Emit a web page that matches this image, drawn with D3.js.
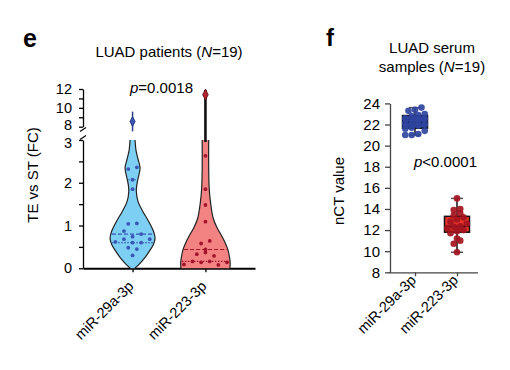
<!DOCTYPE html>
<html>
<head>
<meta charset="utf-8">
<script src="https://cdn.jsdelivr.net/npm/d3@7"></script>
<style>
  body { margin: 0; background: #fff; }
  svg { font-family: "Liberation Sans", Arial, Helvetica, sans-serif; }
</style>
</head>
<body>
<svg id="chart" width="510" height="370"></svg>
<script>
var cats = ['miR-29a-3p', 'miR-223-3p'];

// panel e: TE vs ST fold change (lower axis part), order = placement order in each row
var feBlue = [2.32, 2.36, 2.07, 1.85, 1.04, 1.05, 0.87, 0.74, 0.80, 0.62, 0.68, 0.60, 0.60, 0.68, 0.48, 0.45, 0.30];
var feRed = [2.63, 1.85, 1.48, 1.09, 0.58, 0.64, 0.44, 0.33, 0.37, 0.29, 0.09, 0.16, 0.14, 0.16, 0.08, 0.14];
var feBlueHigh = 8.55;
var feRedHigh = 11.4;
var feBlueTail = [7.5, 9.6];
var feRedTail = [3, 11.9];

// violin outlines (value, relative density)
var blueViolinAt = [0, 0.08, 0.23, 0.39, 0.55, 0.70, 0.86, 1.09, 1.33, 1.56, 1.80, 1.95, 2.10, 2.35, 2.55, 2.75, 3.0];
var blueViolinDen = [0.09, 0.24, 0.47, 0.66, 0.83, 0.90, 0.84, 0.65, 0.41, 0.22, 0.15, 0.17, 0.22, 0.30, 0.22, 0.14, 0.10];
var redViolinAt = [0, 0.12, 0.23, 0.43, 0.62, 0.78, 0.94, 1.17, 1.56, 1.87, 2.35, 3.0];
var redViolinDen = [0.98, 0.99, 0.97, 0.90, 0.77, 0.63, 0.47, 0.31, 0.20, 0.15, 0.13, 0.13];

var blueMedian = 0.80, blueQuart = [0.60, 2.07];
var redMedian = 0.44, redQuart = [0.16];

var feLowTicks = [0, 0.5, 1, 1.5, 2, 2.5, 3];
var feHighTicks = [8, 9, 10, 11, 12];

// panel f: nCT values
var nctBlue = [21.0, 21.0, 21.1, 21.4, 21.6, 21.7, 21.9, 22.0, 22.1, 22.2, 22.3, 22.5, 22.6, 22.8, 22.9, 23.0, 23.3, 23.4, 23.6];
var nctRed = [9.9, 10.7, 11.0, 11.2, 11.7, 11.9, 12.0, 12.2, 12.3, 12.35, 12.6, 12.8, 13.0, 13.2, 13.4, 13.6, 13.9, 14.0, 15.0];
var nctTicks = [8, 10, 12, 14, 16, 18, 20, 22, 24];

var svg = d3.select('#chart');

// rows of points, spread sideways around the centre
function swarm(values, gap) {
  var order = d3.range(values.length).sort(function(a, b) { return values[a] - values[b]; });
  var off = [], group = [], start;
  function flush() {
    group.sort(d3.ascending);
    group.forEach(function(idx, k) { off[idx] = k - (group.length - 1) / 2; });
    group = [];
  }
  order.forEach(function(i) {
    if (group.length && values[i] - start > gap) flush();
    if (!group.length) start = values[i];
    group.push(i);
  });
  flush();
  return off;
}

function styleAxis(g, size) {
  g.attr('font-size', size).attr('font-family', null);
  g.selectAll('path, line').attr('stroke', '#000').attr('stroke-width', 1.3);
  g.selectAll('text').attr('fill', '#000');
}

// ================= panel e
var xE = d3.scalePoint().domain(cats).range([83, 255]).padding(0.68);
var yLow = d3.scaleLinear().domain([0, 3]).range([268.3, 140]);
var yHigh = d3.scaleLinear().domain([8, 12]).range([126.7, 89]);
var wScale = d3.scaleLinear().domain([0, 1]).range([0, 25]);

var ge = svg.append('g');

ge.append('text').attr('x', 23).attr('y', 47).attr('font-size', 25).attr('font-weight', 'bold').text('e');
var te = ge.append('text').attr('x', 169).attr('y', 57).attr('text-anchor', 'middle').attr('font-size', 15);
te.append('tspan').text('LUAD patients (');
te.append('tspan').attr('font-style', 'italic').text('N');
te.append('tspan').text('=19)');

var pe = ge.append('text').attr('x', 130).attr('y', 93).attr('font-size', 15);
pe.append('tspan').attr('font-style', 'italic').text('p');
pe.append('tspan').text('=0.0018');

ge.append('text')
  .attr('transform', 'translate(38,175) rotate(-90)')
  .attr('text-anchor', 'middle').attr('font-size', 15)
  .text('TE vs ST (FC)');

var axLow = ge.append('g').attr('transform', 'translate(83,0)')
  .call(d3.axisLeft(yLow).tickValues(feLowTicks).tickSize(4).tickSizeOuter(0).tickPadding(7)
    .tickFormat(function(d) { return d % 1 === 0 ? d : ''; }))
  .call(styleAxis, 14.5);
axLow.selectAll('.tick text').filter(function(d) { return d === 3; }).attr('y', 2.5);

var axHigh = ge.append('g').attr('transform', 'translate(83,0)')
  .call(d3.axisLeft(yHigh).tickValues(feHighTicks).tickSize(4).tickSizeOuter(0).tickPadding(7)
    .tickFormat(function(d) { return d % 2 === 0 ? d : ''; }))
  .call(styleAxis, 14.5);
axHigh.selectAll('.tick text').filter(function(d) { return d === 8; }).attr('y', -1.5);

// axis break marks
ge.append('path').attr('d', 'M80,131.5L86,127.5M80,139.5L86,135.5')
  .attr('stroke', '#000').attr('stroke-width', 1.2).attr('fill', 'none');

var xAxE = ge.append('g').attr('transform', 'translate(0,268.3)')
  .call(d3.axisBottom(xE).tickSize(4).tickSizeOuter(0).tickFormat(''))
  .call(styleAxis, 15);
xAxE.select('.domain').attr('stroke-width', 2);

ge.selectAll('.xlab').data(cats).enter().append('text')
  .attr('class', 'xlab')
  .attr('transform', function(d) { return 'translate(' + (xE(d) + 2) + ',287) rotate(-45)'; })
  .attr('text-anchor', 'end').attr('font-size', 14.5)
  .text(function(d) { return d; });

function drawViolin(cat, at, den, fill, lineCol, median, quart) {
  var cx = xE(cat);
  var pts = at.map(function(v, i) { return {v: v, d: den[i]}; });
  var area = d3.area().curve(d3.curveCatmullRom)
    .y(function(d) { return yLow(d.v); })
    .x0(function(d) { return cx - wScale(d.d); })
    .x1(function(d) { return cx + wScale(d.d); });
  ge.append('path').attr('d', area(pts)).attr('fill', fill);
  [-1, 1].forEach(function(s) {
    var side = d3.line().curve(d3.curveCatmullRom)
      .y(function(d) { return yLow(d.v); })
      .x(function(d) { return cx + s * wScale(d.d); });
    ge.append('path').attr('d', side(pts)).attr('fill', 'none')
      .attr('stroke', '#222').attr('stroke-width', 1.2);
  });
  var denAt = d3.scaleLinear().domain(at).range(den);
  function level(v, dash) {
    var w = wScale(denAt(v)) - 1;
    ge.append('line').attr('x1', cx - w).attr('x2', cx + w)
      .attr('y1', yLow(v)).attr('y2', yLow(v))
      .attr('stroke', lineCol).attr('stroke-width', 1.2).attr('stroke-dasharray', dash);
  }
  level(median, '4,2');
  quart.forEach(function(q) { level(q, '1.5,1.5'); });
}

drawViolin(cats[0], blueViolinAt, blueViolinDen, '#7dcff3', '#3a57b8', blueMedian, blueQuart);
drawViolin(cats[1], redViolinAt, redViolinDen, '#f38283', '#a3152a', redMedian, redQuart);

function yBoth(v) { return v > 3 ? yHigh(v) : yLow(v); }

// thin tails reaching the high values
ge.append('line').attr('x1', xE(cats[0])).attr('x2', xE(cats[0]))
  .attr('y1', yHigh(feBlueTail[0])).attr('y2', yHigh(feBlueTail[1]))
  .attr('stroke', '#2a4190').attr('stroke-width', 1.5);
ge.append('line').attr('x1', xE(cats[1])).attr('x2', xE(cats[1]))
  .attr('y1', yLow(feRedTail[0]) + 2).attr('y2', yHigh(feRedTail[1]))
  .attr('stroke', '#111').attr('stroke-width', 2.6);

function diamond(cx, cy, hw, hh) {
  return 'M' + cx + ',' + (cy - hh) + 'L' + (cx + hw) + ',' + cy + 'L' + cx + ',' + (cy + hh) + 'L' + (cx - hw) + ',' + cy + 'Z';
}
ge.append('path').attr('d', diamond(xE(cats[0]), yHigh(feBlueHigh), 2.6, 5))
  .attr('fill', '#3a57b8').attr('stroke', '#1d2f70').attr('stroke-width', 0.8);
ge.append('path').attr('d', diamond(xE(cats[1]), yHigh(feRedHigh), 2.8, 5.5))
  .attr('fill', '#b3202f').attr('stroke', '#5a0d14').attr('stroke-width', 0.8);

function drawDots(values, cat, col) {
  var off = swarm(values, 0.135);
  ge.selectAll(null).data(values).enter().append('circle')
    .attr('cx', function(d, i) { return xE(cat) + off[i] * 8.6; })
    .attr('cy', function(d) { return yBoth(d); })
    .attr('r', 1.9).attr('fill', col);
}
drawDots(feBlue, cats[0], '#3a57b8');
drawDots(feRed, cats[1], '#a3152a');

// ================= panel f
var xF = d3.scalePoint().domain(cats).range([394, 478]).padding(0.5);
var yF = d3.scaleLinear().domain([8, 24]).range([272.3, 103.4]);

var gf = svg.append('g');

gf.append('text').attr('x', 326).attr('y', 46).attr('font-size', 24).attr('font-weight', 'bold').text('f');
gf.append('text').attr('x', 432).attr('y', 53).attr('text-anchor', 'middle').attr('font-size', 15).text('LUAD serum');
var tf = gf.append('text').attr('x', 432).attr('y', 72).attr('text-anchor', 'middle').attr('font-size', 15);
tf.append('tspan').text('samples (');
tf.append('tspan').attr('font-style', 'italic').text('N');
tf.append('tspan').text('=19)');

var pf = gf.append('text').attr('x', 414).attr('y', 167).attr('font-size', 15);
pf.append('tspan').attr('font-style', 'italic').text('p');
pf.append('tspan').text('<0.0001');

gf.append('text')
  .attr('transform', 'translate(344,191) rotate(-90)')
  .attr('text-anchor', 'middle').attr('font-size', 15)
  .text('nCT value');

gf.append('g').attr('transform', 'translate(390,0)')
  .call(d3.axisLeft(yF).tickValues(nctTicks).tickSize(5).tickSizeOuter(0).tickPadding(5))
  .call(styleAxis, 15)
  .selectAll('path, line').attr('stroke', '#444');

var xAxF = gf.append('g').attr('transform', 'translate(0,272.3)')
  .call(d3.axisBottom(xF).tickSize(4).tickSizeOuter(0).tickFormat(''))
  .call(styleAxis, 15);
xAxF.selectAll('path, line').attr('stroke', '#444');
xAxF.select('.domain').attr('d', 'M389.5,0.5H478');

gf.selectAll('.xlab').data(cats).enter().append('text')
  .attr('class', 'xlab')
  .attr('transform', function(d) { return 'translate(' + (xF(d) + 2) + ',281) rotate(-45)'; })
  .attr('text-anchor', 'end').attr('font-size', 14.5)
  .text(function(d) { return d; });

function drawBox(values, cat, boxFill, dotFill) {
  var s = values.slice().sort(d3.ascending);
  var q1 = d3.quantile(s, 0.25), med = d3.quantile(s, 0.5), q3 = d3.quantile(s, 0.75);
  var lo = s[0], hi = s[s.length - 1];
  var cx = xF(cat), bw = 12.5, cw = 6;
  gf.append('line').attr('x1', cx).attr('x2', cx).attr('y1', yF(lo)).attr('y2', yF(hi))
    .attr('stroke', '#111').attr('stroke-width', 1.5);
  [lo, hi].forEach(function(v) {
    gf.append('line').attr('x1', cx - cw).attr('x2', cx + cw).attr('y1', yF(v)).attr('y2', yF(v))
      .attr('stroke', '#555').attr('stroke-width', 1.5);
  });
  gf.append('rect').attr('x', cx - bw).attr('width', 2 * bw)
    .attr('y', yF(q3)).attr('height', yF(q1) - yF(q3))
    .attr('fill', boxFill).attr('stroke', '#111').attr('stroke-width', 1.5);
  gf.append('line').attr('x1', cx - bw).attr('x2', cx + bw).attr('y1', yF(med)).attr('y2', yF(med))
    .attr('stroke', '#111').attr('stroke-width', 1.5);
  var off = swarm(values, 0.45);
  gf.selectAll(null).data(values).enter().append('circle')
    .attr('cx', function(d, i) { return cx + off[i] * 6.5; })
    .attr('cy', function(d) { return yF(d); })
    .attr('r', 3.3).attr('fill', dotFill).attr('fill-opacity', 0.92);
}
drawBox(nctBlue, cats[0], '#2f3f9c', '#2f44a0');
drawBox(nctRed, cats[1], '#e8352b', '#a3141f');
</script>
</body>
</html>
